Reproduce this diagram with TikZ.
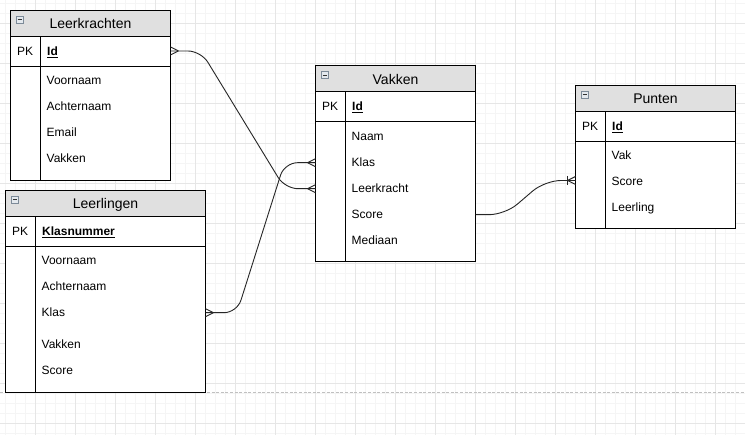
\documentclass[tikz,border=0pt]{standalone}
\usepackage{fontspec}
\setmainfont{Liberation Sans}
\definecolor{hdr}{HTML}{E0E0E0}
\definecolor{gmin}{HTML}{F5F5F5}
\definecolor{gmaj}{HTML}{E6E6E6}
\definecolor{icb}{HTML}{7D8B99}
\definecolor{icf}{HTML}{E4E9EE}
\definecolor{pagel}{HTML}{C0C0C0}
\tikzset{
  tbox/.style={draw=black, line width=1pt, fill=white, inner sep=0pt, outer sep=0pt},
  hdrbox/.style={draw=black, line width=1pt, fill=hdr, inner sep=0pt, outer sep=0pt},
  tline/.style={draw=black, line width=1pt},
  ttitle/.style={font=\fontsize{14}{16}\selectfont, inner sep=0pt, text height=10pt, text depth=0pt},
  tfield/.style={font=\fontsize{12}{14}\selectfont, anchor=west, inner sep=0pt, text height=8.6pt, text depth=0pt},
  tpk/.style={font=\fontsize{12}{14}\selectfont, inner sep=0pt, text height=8.6pt, text depth=0pt},
  icon/.style={draw=icb, line width=0.8pt, fill=icf, minimum width=7.5pt, minimum height=7pt, inner sep=0pt},
  conn/.style={draw=black!85, line width=0.9pt, rounded corners=13pt},
  crow/.style={draw=black!85, line width=0.9pt},
  gminor/.style={draw=gmin, line width=1pt},
  gmajor/.style={draw=gmaj, line width=1pt},
}
% #1 name, #2 left, #3 top, #4 width, #5 height, #6 title, #7 pk field
\newcommand{\ertable}[7]{%
  \node[tbox, minimum width=#4, minimum height=#5] (#1) at (#2+#4/2, #3+#5/2) {};
  \node[hdrbox, minimum width=#4, minimum height=26] (#1-hd) at (#2+#4/2, #3+13) {};
  \node[ttitle] (#1-ti) at (#2+#4/2, #3+13.5) {#6};
  \draw[tline] (#2, #3+56) -- (#2+#4, #3+56);
  \draw[tline] (#2+30, #3+26) -- (#2+30, #3+#5);
  \node[tpk] (#1-pk) at (#2+14.7, #3+40.5) {PK};
  \node[tfield] (#1-pkf) at (#2+36.5, #3+40.5) {#7};
  \node[icon] (#1-ic) at (#2+9.25, #3+9) {};
  \draw[line width=0.9pt, black!80] (#2+7.2, #3+9) -- (#2+11.3, #3+9);
}
\newcommand{\crowfoot}[2]{%
  \draw[crow] (#1) ++(#2*8,0) -- ++(-#2*8,-4) (#1) ++(#2*8,0) -- ++(-#2*8,4);
}
\begin{document}
\begin{tikzpicture}[x=1pt,y=-1pt]
\useasboundingbox (0,0) rectangle (745,435);
\fill[white] (0,0) rectangle (745,435);
% grid
\foreach \x in {5.5,15.5,...,745} \draw[gminor] (\x,0) -- (\x,435);
\foreach \y in {3.3,13.3,...,435} \draw[gminor] (0,\y) -- (745,\y);
\foreach \x in {35.5,75.5,...,745} \draw[gmajor] (\x,0) -- (\x,435);
\foreach \y in {23.3,63.3,...,435} \draw[gmajor] (0,\y) -- (745,\y);
% page break line
\draw[pagel, line width=0.9pt, dash pattern=on 3pt off 1.6pt] (0,392.5) -- (745,392.5);

% Leerkrachten
\ertable{lk}{10.5}{10.5}{160}{170}{Leerkrachten}{\underline{\textbf{Id}}}
\node[tfield] (lk-f1) at (46.5,80.7) {Voornaam};
\node[tfield] (lk-f2) at (46.5,106.7) {Achternaam};
\node[tfield] (lk-f3) at (46.5,132.7) {Email};
\node[tfield] (lk-f4) at (46.5,158.7) {Vakken};

% Leerlingen
\ertable{ll}{5.5}{190.5}{200}{202}{Leerlingen}{\underline{\textbf{Klasnummer}}}
\node[tfield] (ll-f1) at (41.5,260.7) {Voornaam};
\node[tfield] (ll-f2) at (41.5,286.7) {Achternaam};
\node[tfield] (ll-f3) at (41.5,312.7) {Klas};
\node[tfield] (ll-f4) at (41.5,344.3) {Vakken};
\node[tfield] (ll-f5) at (41.5,370.3) {Score};

% Vakken
\ertable{vk}{315.5}{66}{160}{196}{Vakken}{\underline{\textbf{Id}}}
\node[tfield] (vk-f1) at (351.5,136.7) {Naam};
\node[tfield] (vk-f2) at (351.5,162.7) {Klas};
\node[tfield] (vk-f3) at (351.5,188.7) {Leerkracht};
\node[tfield] (vk-f4) at (351.5,214.7) {Score};
\node[tfield] (vk-f5) at (351.5,240.7) {Mediaan};

% Punten
\ertable{pn}{575.5}{85.5}{160}{143.5}{Punten}{\underline{\textbf{Id}}}
\node[tfield] (pn-f1) at (611.5,155.7) {Vak};
\node[tfield] (pn-f2) at (611.5,181.7) {Score};
\node[tfield] (pn-f3) at (611.5,207.7) {Leerling};

% connector Leerkrachten.Id -> Vakken.Leerkracht
\coordinate (e1a) at (lk-pkf -| lk.east);
\coordinate (e1b) at (vk-f3 -| vk.west);
\coordinate (c1a) at (201,51);
\coordinate (c1b) at (285,188.7);
\draw[conn] (e1a) -- (c1a) -- (c1b) -- (e1b);
\crowfoot{e1a}{1}
\crowfoot{e1b}{-1}

% connector Leerlingen.Klas -> Vakken.Klas
\coordinate (e2a) at (ll-f3 -| ll.east);
\coordinate (e2b) at (vk-f2 -| vk.west);
\coordinate (c2a) at (237,312.7);
\coordinate (c2b) at (284.5,162.7);
\draw[conn] (e2a) -- (c2a) -- (c2b) -- (e2b);
\crowfoot{e2a}{1}
\crowfoot{e2b}{-1}

% connector Vakken.Score -> Punten.Score
\coordinate (e3a) at (vk-f4 -| vk.east);
\coordinate (e3b) at (pn.west |- 0,180.5);
\coordinate (c3a) at (505,214.7);
\coordinate (c3b) at (545,180.5);
\draw[conn, rounded corners=16pt] (e3a) -- (c3a) -- (c3b) -- (e3b);
\crowfoot{e3b}{-1}
\draw[crow] (e3b) ++(-8,-4.5) -- ++(0,9);
\end{tikzpicture}
\end{document}
